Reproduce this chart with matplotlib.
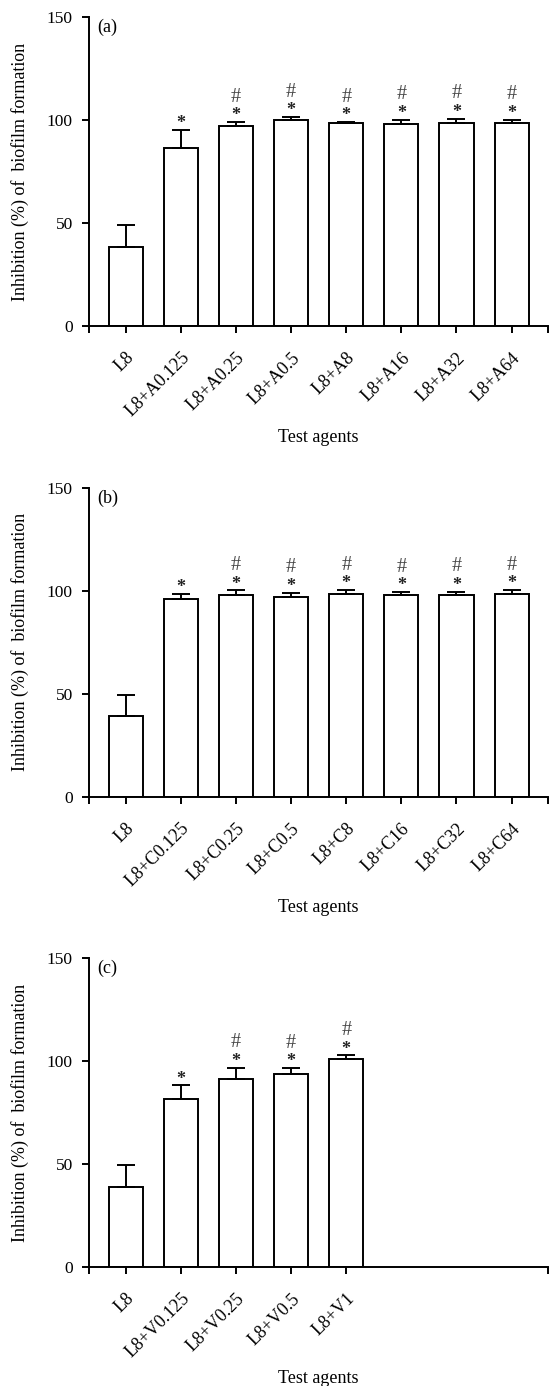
import matplotlib
matplotlib.use("Agg")
import matplotlib.pyplot as plt
import matplotlib.transforms as mtransforms
import numpy as np

plt.rcParams["font.family"] = ["Liberation Serif", "DejaVu Serif"]

# panel (a): L8 + agent A
labels_a = ["L8", "L8+A0.125", "L8+A0.25", "L8+A0.5", "L8+A8", "L8+A16", "L8+A32", "L8+A64"]
means_a = [38.6, 86.7, 97.1, 100.2, 98.7, 98.2, 98.7, 98.7]
errs_a = [10.5, 8.6, 2.1, 1.3, 0.6, 2.1, 2.1, 1.6]
star_a = [0, 1, 1, 1, 1, 1, 1, 1]
hash_a = [0, 0, 1, 1, 1, 1, 1, 1]

# panel (b): L8 + agent C
labels_b = ["L8", "L8+C0.125", "L8+C0.25", "L8+C0.5", "L8+C8", "L8+C16", "L8+C32", "L8+C64"]
means_b = [39.0, 95.9, 98.0, 97.1, 98.5, 98.0, 98.0, 98.5]
errs_b = [10.6, 2.8, 2.2, 2.1, 2.0, 1.5, 1.7, 2.1]
star_b = [0, 1, 1, 1, 1, 1, 1, 1]
hash_b = [0, 0, 1, 1, 1, 1, 1, 1]

# panel (c): L8 + agent V
labels_c = ["L8", "L8+V0.125", "L8+V0.25", "L8+V0.5", "L8+V1"]
means_c = [39.0, 81.8, 91.2, 93.7, 101.1]
errs_c = [10.4, 6.5, 5.7, 3.1, 1.7]
star_c = [0, 1, 1, 1, 1]
hash_c = [0, 0, 1, 1, 1]

N_SLOTS = 8


def draw_panel(fig, ax, tag, labels, means, errs, stars, hashes):
    x = np.arange(len(labels))
    ax.bar(x, means, width=0.62, color="white", edgecolor="black", linewidth=1.4, zorder=2)
    ax.errorbar(x, means, yerr=[np.zeros(len(x)), errs], fmt="none", ecolor="black",
                elinewidth=1.4, capsize=6.5, capthick=1.4, zorder=3)

    for i in range(len(x)):
        top = means[i] + errs[i]
        if stars[i]:
            ax.annotate("*", (x[i], top), xytext=(0, 1.2), textcoords="offset points",
                        ha="center", va="baseline", fontsize=13, fontweight="bold", color="#222222")
        if hashes[i]:
            ax.annotate("#", (x[i], top), xytext=(0, 14.5), textcoords="offset points",
                        ha="center", va="baseline", fontsize=14.5, color="#444444")

    lo, hi = -0.66, N_SLOTS - 1 + 0.66
    ax.set_xlim(lo, hi)
    ax.set_ylim(0, 150)
    ax.set_yticks([0, 50, 100, 150])
    ax.set_xticks([lo] + list(x) + [hi])
    ax.set_xticklabels([""] + labels + [""], rotation=45, ha="right", va="top", fontsize=13)
    ax.tick_params(axis="both", direction="out", length=4.8, width=1.4)
    ax.tick_params(axis="y", pad=7, labelsize=12.5)
    ax.tick_params(axis="x", pad=4)

    # labels sit a bit right of and below their ticks in the original
    shift = mtransforms.ScaledTranslation(12 / 100, -11 / 100, fig.dpi_scale_trans)
    for lab in ax.get_xticklabels():
        lab.set_transform(lab.get_transform() + shift)

    for s in ["top", "right"]:
        ax.spines[s].set_visible(False)
    for s in ["left", "bottom"]:
        ax.spines[s].set_linewidth(1.4)

    ax.set_ylabel("Inhibition (%) of  biofilm formation", fontsize=13)
    ax.yaxis.set_label_coords(-0.132, 0.5)
    ax.set_xlabel("Test agents", fontsize=13)
    ax.xaxis.set_label_coords(0.5, -0.333)
    ax.text(0.018, 0.953, tag, transform=ax.transAxes, fontsize=13, va="baseline", ha="left")


fig = plt.figure(figsize=(5.5, 13.86), dpi=100)
left = 89.3 / 550
width = (548 - 89.3) / 550
height = 308.7 / 1386

ax1 = fig.add_axes([left, 1 - 326 / 1386, width, height])
ax2 = fig.add_axes([left, 1 - 796.7 / 1386, width, height])
ax3 = fig.add_axes([left, 1 - 1267 / 1386, width, height])

draw_panel(fig, ax1, "(a)", labels_a, means_a, errs_a, star_a, hash_a)
draw_panel(fig, ax2, "(b)", labels_b, means_b, errs_b, star_b, hash_b)
draw_panel(fig, ax3, "(c)", labels_c, means_c, errs_c, star_c, hash_c)

plt.savefig("out.png", dpi=100)
